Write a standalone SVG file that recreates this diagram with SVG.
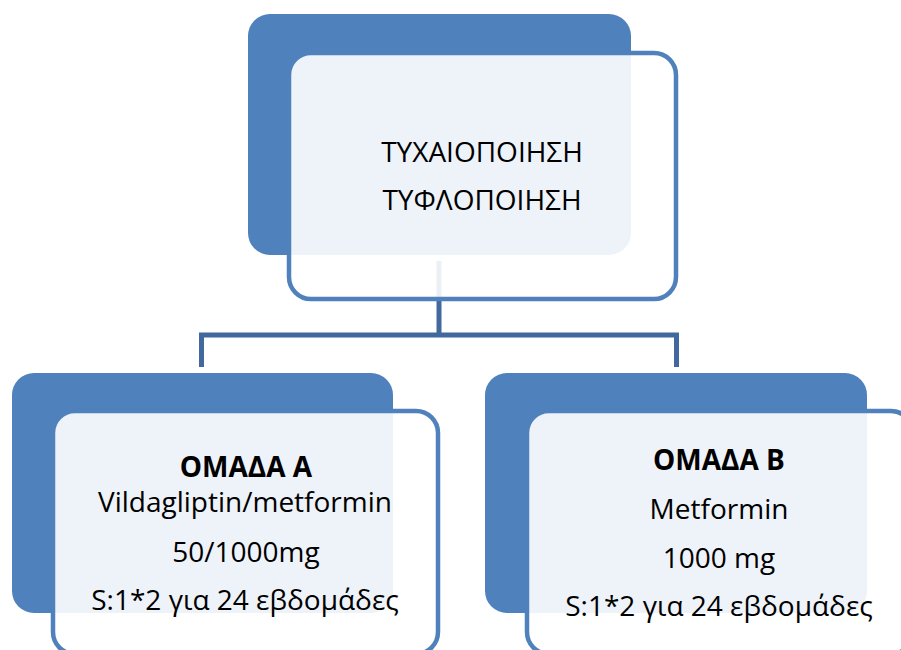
<svg xmlns="http://www.w3.org/2000/svg" width="901" height="650" viewBox="0 0 901 650">
<style>
.back{fill:#4F81BD;}
.front{fill:#FFFFFF;fill-opacity:0.9;stroke:#4F81BD;stroke-width:4.5;}
.conn{fill:none;stroke:#41699D;stroke-width:5;}
text{font-family:"Open Sans","Liberation Sans",sans-serif;font-size:28px;fill:#000;text-anchor:middle;}
.b{font-weight:bold;}
</style>
<rect width="901" height="650" fill="#FFFFFF"/>
<g id="connectors">
<path class="conn" d="M439,261 V335"/>
<path class="conn" d="M201.5,367 V335 H676.5 V367"/>
</g>
<g id="node-top">
<rect class="back" x="248" y="14" width="383" height="241" rx="22"/>
<rect class="front" x="289" y="53" width="387" height="246" rx="22"/>
<text x="482" y="162">ΤΥΧΑΙΟΠΟΙΗΣΗ</text>
<text x="482" y="210">ΤΥΦΛΟΠΟΙΗΣΗ</text>
</g>
<g id="node-a">
<rect class="back" x="12" y="373" width="381" height="240" rx="22"/>
<rect class="front" x="53" y="411" width="385" height="243" rx="22"/>
<text class="b" x="246" y="477">ΟΜΑΔΑ Α</text>
<text x="245" y="512">Vildagliptin/metformin</text>
<text x="246" y="562">50/1000mg</text>
<text x="245" y="610">S:1*2 για 24 εβδομάδες</text>
</g>
<g id="node-b">
<rect class="back" x="485" y="373" width="382" height="240" rx="22"/>
<rect class="front" x="527" y="411" width="386" height="243" rx="22"/>
<text class="b" x="719" y="470">ΟΜΑΔΑ Β</text>
<text x="719" y="519">Metformin</text>
<text x="719" y="568">1000 mg</text>
<text x="719" y="616">S:1*2 για 24 εβδομάδες</text>
</g>
</svg>
